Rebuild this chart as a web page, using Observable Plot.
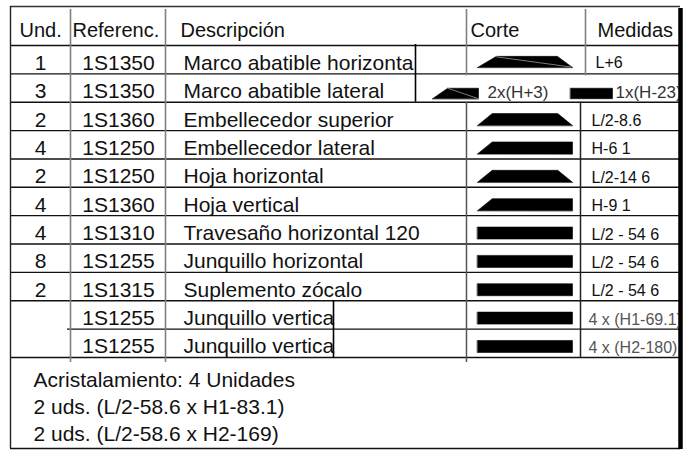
<!DOCTYPE html>
<html>
<head>
<meta charset="utf-8">
<script src="https://cdn.jsdelivr.net/npm/d3@7"></script>
<script src="https://cdn.jsdelivr.net/npm/@observablehq/plot@0.6"></script>
<style>
  html, body { margin: 0; padding: 0; background: #fff; }
  #chart svg { display: block; }
</style>
</head>
<body>
<div id="chart"></div>
<script>
// ---------- DATA ----------
const headers = ["Und.", "Referenc.", "Descripción", "Corte", "Medidas"];
const units = ["1", "3", "2", "4", "2", "4", "4", "8", "2", "", ""];
const refs = ["1S1350", "1S1350", "1S1360", "1S1250", "1S1250", "1S1360", "1S1310", "1S1255", "1S1315", "1S1255", "1S1255"];
const descriptions = [
  "Marco abatible horizonta", "Marco abatible lateral", "Embellecedor superior",
  "Embellecedor lateral", "Hoja horizontal", "Hoja vertical",
  "Travesaño horizontal 120", "Junquillo horizontal", "Suplemento zócalo",
  "Junquillo vertica", "Junquillo vertica"
];
const cuts = ["marco", "doble", "trapecio", "rampa", "trapecio", "rampa", "rect", "rect", "rect", "rect", "rect"];
const measures = ["L+6", "", "L/2-8.6", "H-6 1", "L/2-14 6", "H-9 1", "L/2 - 54 6", "L/2 - 54 6", "L/2 - 54 6", "4 x (H1-69.1)", "4 x (H2-180)"];
const doubleMeasures = ["2x(H+3)", "1x(H-23)"];
const glazingLines = ["Acristalamiento: 4 Unidades", "2 uds. (L/2-58.6 x H1-83.1)", "2 uds. (L/2-58.6 x H2-169)"];

// ---------- LAYOUT ----------
const W = 685, H = 451;
const L = {
  left: 10, right: 680, top: 6, headBottom: 45, rowH: 28.36, bottom: 448,
  colUnd: 70, colRef: 165, colDesc: 466, colCorteHead: 585, colCorte: 580,
  box1: 415, box2: 333,
  shapeX1: 477, shapeX2: 572, shapeTop: 17, shapeBot: 5
};
const n = refs.length;
const rowBottom = i => L.headBottom + L.rowH * (i + 1);
const tableBottom = rowBottom(n - 1);

// cut profiles in unit coordinates (u across, v down)
const profiles = {
  marco: [[0, 1], [0.2, 0], [0.84, 0], [1, 1]],
  trapecio: [[0, 1], [0.155, 0], [0.845, 0], [1, 1]],
  rampa: [[0, 1], [0.155, 0], [1, 0], [1, 1]],
  rect: [[0, 0], [1, 0], [1, 1], [0, 1]]
};

const polys = [];
const diag = [];
cuts.forEach((c, i) => {
  const b = rowBottom(i);
  if (c === "doble") {
    const y1 = b - 14, y2 = b - 3.5;
    const parts = [
      {x1: 432, x2: 478, p: [[0, 1], [0.33, 0], [1, 0], [1, 1]], d: true},
      {x1: 570, x2: 612, p: profiles.rect}
    ];
    parts.forEach((pt, k) => {
      pt.p.forEach(([u, v]) => polys.push({id: i + "-" + k, x: pt.x1 + u * (pt.x2 - pt.x1), y: y1 + v * (y2 - y1)}));
      if (pt.d) {
        diag.push({id: i + "d", x: pt.x1 + 0.33 * (pt.x2 - pt.x1), y: y1});
        diag.push({id: i + "d", x: pt.x2, y: y2});
      }
    });
  } else {
    const y1 = b - L.shapeTop - (i === 0 ? 0.5 : 0), y2 = b - L.shapeBot - (i === 0 ? 1.4 : 0);
    profiles[c].forEach(([u, v]) => polys.push({id: i, x: L.shapeX1 + u * (L.shapeX2 - L.shapeX1), y: y1 + v * (y2 - y1)}));
    if (c === "marco") {
      diag.push({id: i + "d", x: L.shapeX1 + 0.2 * (L.shapeX2 - L.shapeX1), y: y1 + 0.5});
      diag.push({id: i + "d", x: L.shapeX2 - 2, y: y2 - 0.5});
    }
  }
});

// horizontal rules
const hRules = [
  {y: L.top, x1: L.left, x2: L.right, c: "#333", w: 1.3},
  {y: L.headBottom, x1: L.left, x2: L.right, c: "#111", w: 1.4},
  ...d3.range(n).map(i => ({y: rowBottom(i), x1: i === n - 2 ? 67 : L.left, x2: L.right, c: "#111", w: 1.4})),
  {y: L.bottom, x1: L.left, x2: L.right, c: "#111", w: 1.4}
];
// vertical rules
const vRules = [
  {x: L.left, y1: L.top, y2: L.bottom, c: "#222", w: 1.4},
  {x: L.colUnd, y1: L.top + 3, y2: tableBottom + 5, c: "#808080", w: 1.6},
  {x: L.colRef, y1: L.top + 3, y2: tableBottom + 5, c: "#808080", w: 1.6},
  {x: L.colDesc, y1: L.top + 3, y2: rowBottom(0) + 2, c: "#808080", w: 1.6},
  {x: L.colDesc, y1: rowBottom(1), y2: tableBottom + 5, c: "#555", w: 1.5},
  {x: L.colCorteHead, y1: L.top + 3, y2: rowBottom(0) + 2, c: "#808080", w: 1.6},
  {x: L.colCorte, y1: rowBottom(1), y2: tableBottom, c: "#222", w: 1.5},
  {x: L.box1, y1: L.headBottom - 1, y2: rowBottom(1), c: "#000", w: 1.6},
  {x: L.box2, y1: rowBottom(8), y2: tableBottom, c: "#000", w: 1.6},
  {x: L.right, y1: L.top + 2, y2: L.bottom + 1, c: "#000", w: 4}
];

const rows = d3.range(n).map(i => ({
  i, und: units[i], ref: refs[i], desc: descriptions[i], meas: measures[i],
  base: rowBottom(i) - 4
}));

const headX = [19, 72, 180, 470, 597];
const headData = headers.map((h, k) => ({h, x: headX[k]}));
const font = "Liberation Sans, Arial, Helvetica, sans-serif";

const chart = Plot.plot({
  width: W, height: H, margin: 0,
  x: {domain: [0, W], range: [0, W], axis: null},
  y: {domain: [0, H], range: [0, H], axis: null},
  style: {fontFamily: font, background: "#fff"},
  marks: [
    Plot.line(polys, {x: "x", y: "y", z: "id", fill: "#000", stroke: "#000", strokeWidth: 0.6, curve: "linear-closed"}),
    Plot.line(diag, {x: "x", y: "y", z: "id", stroke: "#9a9a9a", strokeWidth: 0.8}),
    Plot.ruleY(hRules, {y: "y", x1: "x1", x2: "x2", stroke: "c", strokeWidth: "w"}),
    Plot.ruleX(vRules, {x: "x", y1: "y1", y2: "y2", stroke: "c", strokeWidth: "w"}),
    // header
    Plot.text(headData, {x: "x", y: () => 36, text: "h", textAnchor: "start", lineAnchor: "bottom", fontSize: 20, fill: "#111", fontFamily: font}),
    // body
    Plot.text(rows, {x: () => 40, y: "base", text: "und", textAnchor: "middle", lineAnchor: "bottom", fontSize: 21, fill: "#111", fontFamily: font}),
    Plot.text(rows, {x: () => (L.colUnd + L.colRef) / 2 + 0.5, y: "base", text: "ref", textAnchor: "middle", lineAnchor: "bottom", fontSize: 21, fill: "#111", fontFamily: font}),
    Plot.text(rows, {x: () => 183, y: "base", text: "desc", textAnchor: "start", lineAnchor: "bottom", fontSize: 21, fill: "#111", fontFamily: font}),
    Plot.text(rows, {
      x: d => d.i === 0 ? 595 : d.i >= 9 ? 588 : 591,
      y: d => d.i === 0 ? rowBottom(d.i) - 6 : rowBottom(d.i) - 4.5,
      text: "meas", textAnchor: "start", lineAnchor: "bottom", fontSize: 16,
      fill: d => d.i >= 9 ? "#555" : "#111", fontFamily: font
    }),
    Plot.text(doubleMeasures, {
      x: (d, k) => k === 0 ? 487 : 615, y: () => rowBottom(1) - 4,
      text: d => d, textAnchor: "start", lineAnchor: "bottom", fontSize: 17, fill: "#333", fontFamily: font
    }),
    // footer
    Plot.text(glazingLines, {
      x: () => 33, y: (d, k) => 386 + 27 * k, text: d => d,
      textAnchor: "start", lineAnchor: "bottom", fontSize: 21, fill: "#111", fontFamily: font
    }),
    // re-draw right border on top (clips overflowing text)
    Plot.ruleX([vRules[vRules.length - 1]], {x: "x", y1: "y1", y2: "y2", stroke: "c", strokeWidth: 4})
  ]
});
document.getElementById("chart").appendChild(chart);
</script>
</body>
</html>
